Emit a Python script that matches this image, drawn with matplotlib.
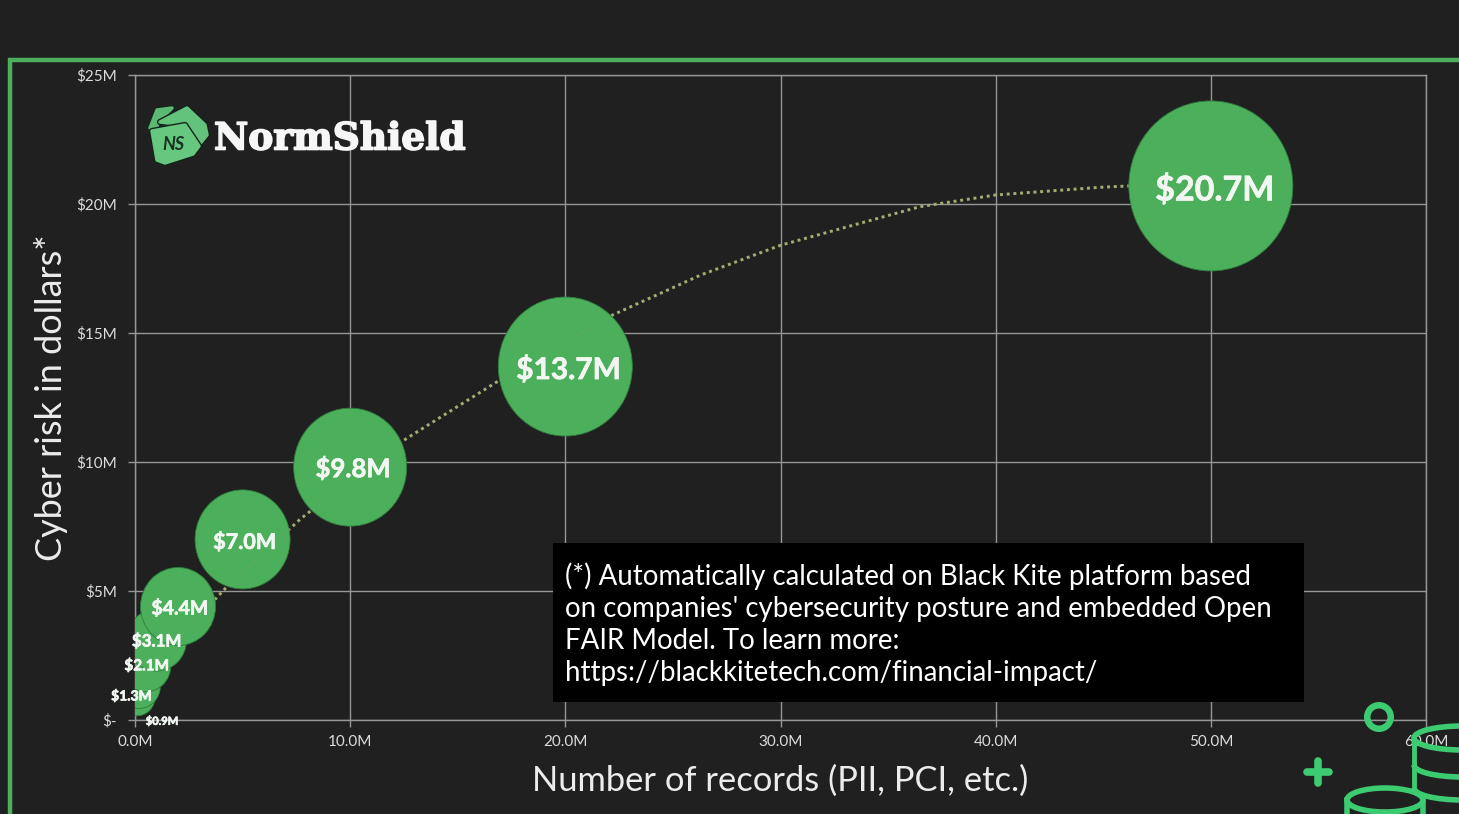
import matplotlib
matplotlib.use('Agg')
import matplotlib.pyplot as plt
import matplotlib.patheffects as pe
from matplotlib.patches import Ellipse, Polygon, Rectangle, Arc

BG = '#202020'
GRID = '#969696'
BUBBLE = '#4caf5b'
FRAME = '#4caf5b'
ICON = '#3ccb70'

# records (millions) and cyber risk ($ millions) per bubble
records = [0.1, 0.2, 0.5, 1, 2, 5, 10, 20, 50]
risk = [0.9, 1.3, 2.1, 3.1, 4.4, 7.0, 9.8, 13.7, 20.7]

# dotted trend line
trend_x = [0.0, 1.0, 2.5, 4.2, 7.7, 10.0, 12.6, 17.0, 22.2, 26.3, 30.0, 36.5, 40.0, 44.9, 46.2, 50.0]
trend_y = [1.5, 2.4, 3.6, 5.1, 7.8, 9.3, 10.9, 13.2, 15.7, 17.25, 18.4, 19.9, 20.35, 20.65, 20.7, 20.6]

x_ticks = [0, 10, 20, 30, 40, 50, 60]
x_labels = ['0.0M', '10.0M', '20.0M', '30.0M', '40.0M', '50.0M', '60.0M']
y_ticks = [0, 5, 10, 15, 20, 25]
y_labels = ['$-', '$5M', '$10M', '$15M', '$20M', '$25M']

footnote = ("(*) Automatically calculated on Black Kite platform based\n"
            "on companies' cybersecurity posture and embedded Open\n"
            "FAIR Model. To learn more:\n"
            "https://blackkitetech.com/financial-impact/")

W, H = 1459, 814
plt.rcParams['font.family'] = ['Lato', 'DejaVu Sans']

fig = plt.figure(figsize=(W / 100, H / 100), dpi=100, facecolor=BG)

# main chart area
ax = fig.add_axes([135 / W, (H - 720) / H, (1426 - 135) / W, 645 / H], facecolor=BG)
ax.set_xlim(0, 60)
ax.set_ylim(0, 25)
ax.set_xticks(x_ticks)
ax.set_xticklabels(x_labels)
ax.set_yticks(y_ticks)
ax.set_yticklabels(y_labels)
ax.tick_params(axis='both', colors=GRID, labelcolor='#dcdcdc', labelsize=11, length=5, width=1)
ax.tick_params(axis='x', pad=6)
ax.tick_params(axis='y', pad=8)
ax.grid(True, color=GRID, linewidth=1)
ax.set_axisbelow(True)
for spine in ax.spines.values():
    spine.set_color(GRID)
    spine.set_linewidth(1)

dots = (0, (1, 1.3))
ax.plot(trend_x, trend_y, linestyle=dots, color='#a3ad72', linewidth=2.1, zorder=2)

# bubble sizes in pixels, slightly taller than wide
widths = [36, 42, 50, 60, 75, 95, 113, 134, 164]
heights = [38, 44, 52, 62, 78, 99, 118, 139, 170]
px_x = (1426 - 135) / 60
px_y = 645 / 25
for x, y, w, h in zip(records, risk, widths, heights):
    ax.add_patch(Ellipse((x, y), w / px_x, h / px_y, facecolor=BUBBLE,
                         edgecolor='#2f7d3c', linewidth=0.6, zorder=3))

# the trend shows faintly through the bubbles
ax.plot(trend_x, trend_y, linestyle=dots, color='#a3ad72', linewidth=2.1, alpha=0.12, zorder=4)

# value labels: size in points, offset from the bubble centre in pixels (dy counts downwards)
label_sizes = [8, 10, 11, 12.2, 14, 15.5, 18.5, 21.5, 24.5]
label_dx = [25, -8, 1, 0, 2, 2, 3, 3, 4]
label_dy = [24, 10, 0, 1, 2, 3, 1, 3, 4]
for x, y, s, dx, dy in zip(records, risk, label_sizes, label_dx, label_dy):
    ax.annotate(f'${y:.1f}M', (x, y), xytext=(dx * 0.72, dy * -0.72), textcoords='offset points',
                ha='center', va='center', color='#f2f7f2', fontsize=s, fontweight='bold',
                zorder=5, annotation_clip=False,
                path_effects=[pe.withStroke(linewidth=0.5, foreground='#f2f7f2')])

# full-figure overlay in pixel coordinates
ov = fig.add_axes([0, 0, 1, 1], facecolor='none')
ov.set_xlim(0, W)
ov.set_ylim(H, 0)
ov.axis('off')

# slide frame
ov.plot([9.5, 9.5, W + 5], [H + 5, 59.5, 59.5], color=FRAME, linewidth=3.2, solid_joinstyle='miter')

ov.text(780, 781, 'Number of records (PII, PCI, etc.)', ha='center', va='center', color='#ececec', fontsize=24.8)
ov.text(51, 398, 'Cyber risk in dollars*', ha='center', va='center', rotation=90, color='#ececec', fontsize=25.9)

# footnote box
ov.add_patch(Rectangle((553, 543), 751, 159, facecolor='black', edgecolor='none'))
ov.text(565, 624, footnote, ha='left', va='center', color='white', fontsize=19.9, linespacing=1.29)

# logo
back = [(150, 128), (157, 110), (172, 108), (160, 120), (155, 130)]
middle = [(160, 122), (187, 108), (205, 125), (207, 135), (198, 146), (186, 125)]
front = [(152, 131), (185, 125), (199, 146), (193, 154), (165, 163), (157, 160)]
for pts, col in zip([back, middle, front], ['#5cb974', '#63c27b', '#66c77f']):
    ov.add_patch(Polygon(pts, closed=True, facecolor=col, edgecolor='#14241a', linewidth=4.5, joinstyle='round'))
    ov.add_patch(Polygon(pts, closed=True, facecolor=col, edgecolor=col, linewidth=2.5, joinstyle='round'))
ov.text(173, 144, 'NS', ha='center', va='center', color='#17331f', fontsize=13, style='italic', fontweight='bold')
ov.text(214, 139, 'NormShield', ha='left', va='center', color='#f7f7f7', fontsize=27,
        family=['DejaVu Serif', 'DejaVu Sans'], fontweight='bold',
        path_effects=[pe.withStroke(linewidth=1.2, foreground='#f7f7f7')])

# coin decorations
ov.add_patch(Ellipse((1379, 717), 23.5, 23.5, facecolor='none', edgecolor=ICON, linewidth=4.7))
ov.plot([1318, 1318], [761, 783], color=ICON, linewidth=5.5, solid_capstyle='round')
ov.plot([1307, 1329], [772, 772], color=ICON, linewidth=5.5, solid_capstyle='round')

ov.add_patch(Ellipse((1462, 738), 96, 24, facecolor='none', edgecolor=ICON, linewidth=4))
ov.plot([1414, 1414], [738, 790], color=ICON, linewidth=3.5)
ov.add_patch(Arc((1462, 765), 96, 24, theta1=90, theta2=180, edgecolor=ICON, linewidth=4))
ov.add_patch(Arc((1462, 788), 96, 24, theta1=90, theta2=180, edgecolor=ICON, linewidth=4))

ov.add_patch(Ellipse((1385, 800), 76, 24, facecolor=BG, edgecolor=ICON, linewidth=4))
ov.plot([1347, 1347], [800, 820], color=ICON, linewidth=4)
ov.plot([1423, 1423], [800, 820], color=ICON, linewidth=4)

fig.savefig('out.png', dpi=100, facecolor=BG)
plt.close(fig)
